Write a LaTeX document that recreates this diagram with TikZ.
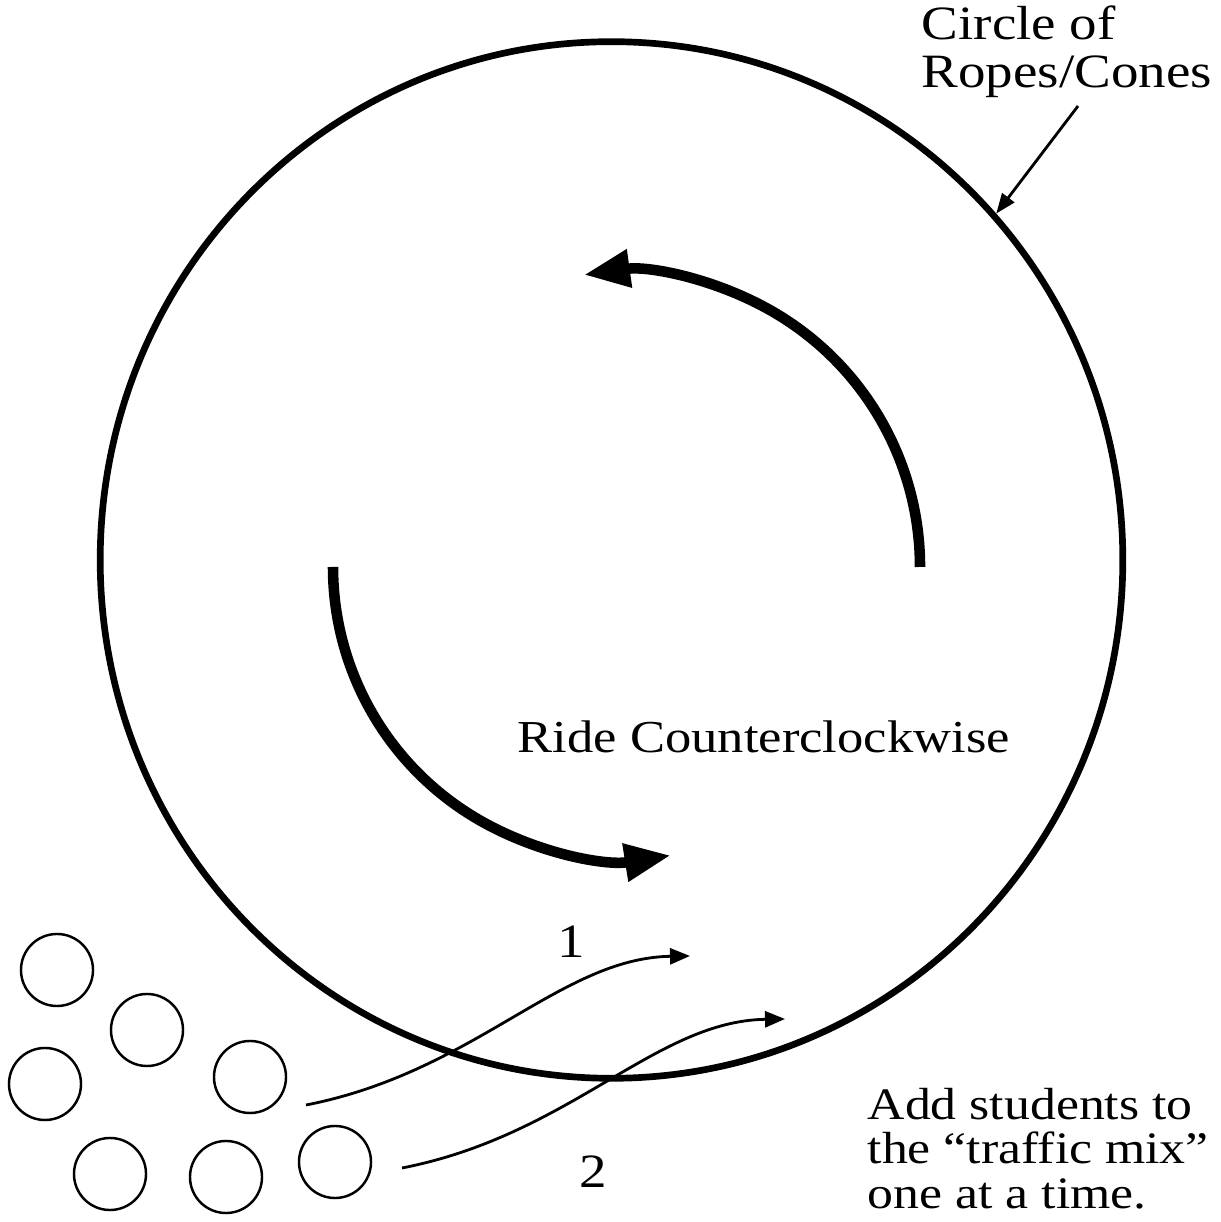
\documentclass[tikz,border=0pt]{standalone}
\usepackage{fontspec}
\setmainfont{Liberation Serif}[FakeStretch=1.15]
\usetikzlibrary{arrows.meta,shapes.geometric}

\begin{document}
\begin{tikzpicture}[
  x=0.01cm, y=0.01cm,
  font=\fontsize{13.6}{14}\selectfont,
  ring/.style={ellipse, draw, line width=1.9pt, minimum width=10.22cm, minimum height=10.36cm, inner sep=0pt},
  rider/.style={circle, draw, line width=0.7pt, minimum size=0.72cm, inner sep=0pt},
  flow/.style={line width=3pt, -{Triangle[length=0.46cm, width=0.36cm]}},
  entry/.style={line width=0.8pt, -{Triangle[length=0.2cm, width=0.16cm]}},
  lead/.style={line width=0.8pt, -{Triangle[length=0.2cm, width=0.15cm]}},
  note/.style={align=left, inner sep=0pt, anchor=base west}
]
  \useasboundingbox (0,0) rectangle (1220,1222);

  % Riding area
  \node[ring] (ring) at (611.5,662) {};

  % Direction of travel
  \draw[flow] (920,655) arc[start angle=0, end angle=98, radius=295];
  \draw[flow] (333,655) arc[start angle=180, end angle=279, radius=292];
  \node[note, font=\fontsize{13}{14}\selectfont] (ride) at (517,469) {Ride Counterclockwise};

  % Waiting students
  \node[rider] (s1) at (57,252) {};
  \node[rider] (s2) at (147,192) {};
  \node[rider] (s3) at (45,138) {};
  \node[rider] (s4) at (250,145) {};
  \node[rider] (s5) at (110,48) {};
  \node[rider] (s6) at (226,45) {};
  \node[rider] (s7) at (335,60) {};

  % Entry paths
  \coordinate (in1) at (306,117);
  \coordinate (out1) at (690,266);
  \coordinate (in2) at (402,54);
  \coordinate (out2) at (785,203);
  \draw[entry] (in1) .. controls (475,150) and (560,264) .. (out1);
  \draw[entry] (in2) .. controls (571,87) and (655,201) .. (out2);
  \node (one) at (571,280) {1};
  \node (two) at (593,50) {2};

  % Labels
  \node[note, font=\fontsize{13.6}{13.9}\selectfont] (ropes) at (921,1134) {Circle of\\Ropes/Cones};
  \coordinate (ropesfoot) at (1078,1116);
  \draw[lead] (ropesfoot) -- (ring.42);
  \node[note, font=\fontsize{12.8}{12.6}\selectfont] (add) at (867,14) {Add students to\\the ``traffic mix''\\one at a time.};
\end{tikzpicture}
\end{document}
